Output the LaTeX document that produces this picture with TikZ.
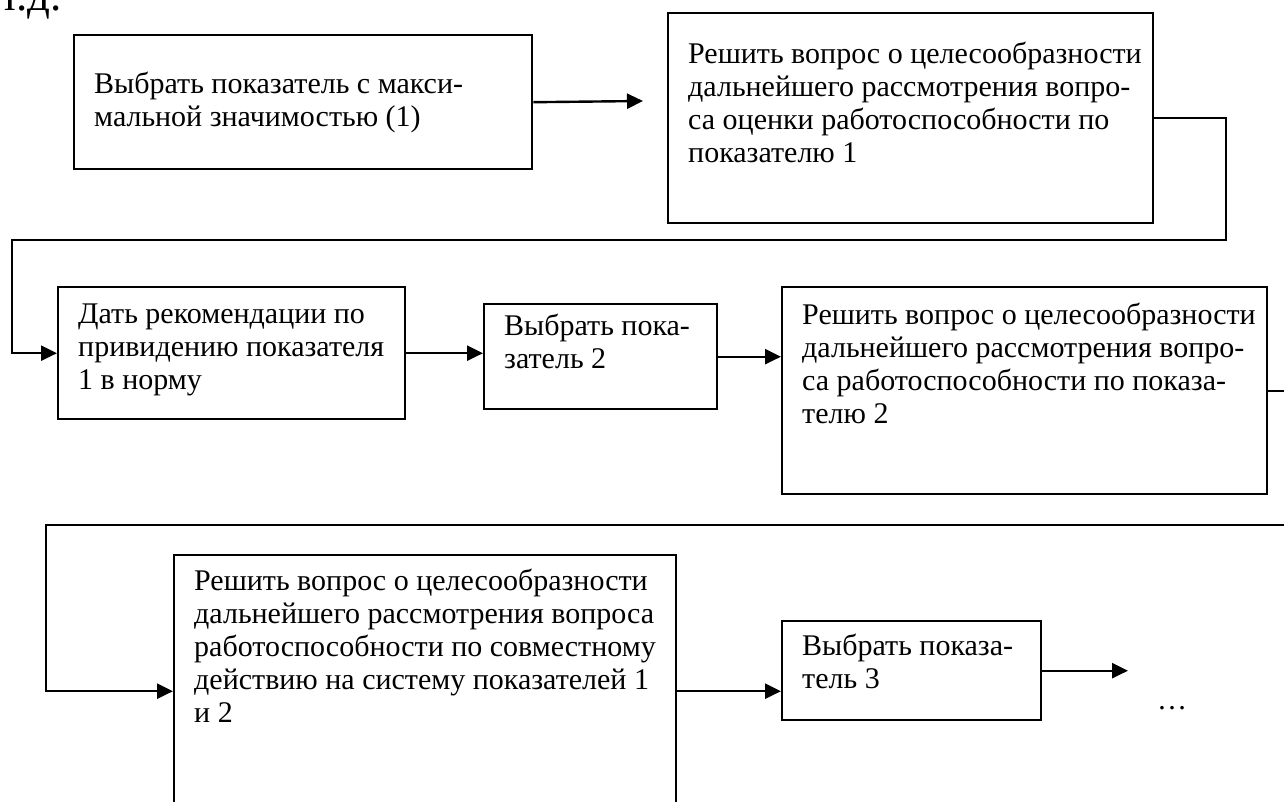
\documentclass[tikz,border=0pt]{standalone}
\usepackage{fontspec}
\setmainfont{Liberation Serif}
\usetikzlibrary{arrows.meta}

\tikzset{
  blk/.style={draw, line width=2.4pt, anchor=north west, inner sep=0pt},
  link/.style={line width=2.4pt, -{Triangle[length=16pt,width=15pt]}},
  wire/.style={line width=2.4pt}
}
% box text: width, height, top gap, lines
\newcommand\cell[4]{\parbox[c][#2pt][t]{#1pt}{\raggedright\leftskip=20pt\vspace*{#3pt}#4}}

\begin{document}
\begin{tikzpicture}[x=1pt, y=-1pt, font=\fontsize{30}{33}\selectfont]
  \useasboundingbox (0,0) rectangle (1284,802);

  % Cut text at the top
  \node[anchor=base west, inner sep=0pt, font=\fontsize{45}{50}\selectfont] (etc) at (0,11) {т.д.};

  % Boxes
  \node[blk] (A) at (73,34) {\cell{458}{134}{37}{Выбрать показатель с макси-\\мальной значимостью (1)}};
  \node[blk] (B) at (667,12) {\cell{485}{210}{29}{Решить вопрос о целесообразности\\дальнейшего рассмотрения вопро-\\са оценки работоспособности по\\показателю 1}};
  \node[blk] (C) at (57,286) {\cell{347}{132}{17}{Дать рекомендации по\\привидению показателя\\1 в норму}};
  \node[blk] (D) at (483,303) {\cell{233}{105}{10}{Выбрать пока-\\затель 2}};
  \node[blk] (E) at (781,286) {\cell{485}{207}{16}{Решить вопрос о целесообразности\\дальнейшего рассмотрения вопро-\\са работоспособности по показа-\\телю 2}};
  \node[blk] (F) at (173,554) {\cell{502}{272}{14}{Решить вопрос о целесообразности\\дальнейшего рассмотрения вопроса\\работоспособности по совместному\\действию на систему показателей 1\\и 2}};
  \node[blk] (G) at (781,620) {\cell{259}{99}{13}{Выбрать показа-\\тель 3}};

  % Turning points
  \coordinate (ab) at (643,101);
  \coordinate (b1) at (1226,240);
  \coordinate (b2) at (12,240);
  \coordinate (e1) at (1300,0);
  \coordinate (e2) at (1300,525);
  \coordinate (e3) at (46,525);
  \coordinate (g1) at (1128,0);

  % Connectors
  \draw[link] (A.east) -- (ab);
  \draw[link] (B.east) -| (b1) -- (b2) |- (C.west);
  \draw[link] (C.east) -- (C.east -| D.west);
  \draw[link] (D.east) -- (D.east -| E.west);
  \draw[wire] (E.east) -- (E.east -| e1);
  \draw[link] (e2) -- (e3) |- (F.west);
  \draw[link] (F.east) -- (F.east -| G.west);
  \draw[link] (G.east) -- (G.east -| g1);

  % Continuation
  \node (dots) at (1172,708) {\ldots};
\end{tikzpicture}
\end{document}
